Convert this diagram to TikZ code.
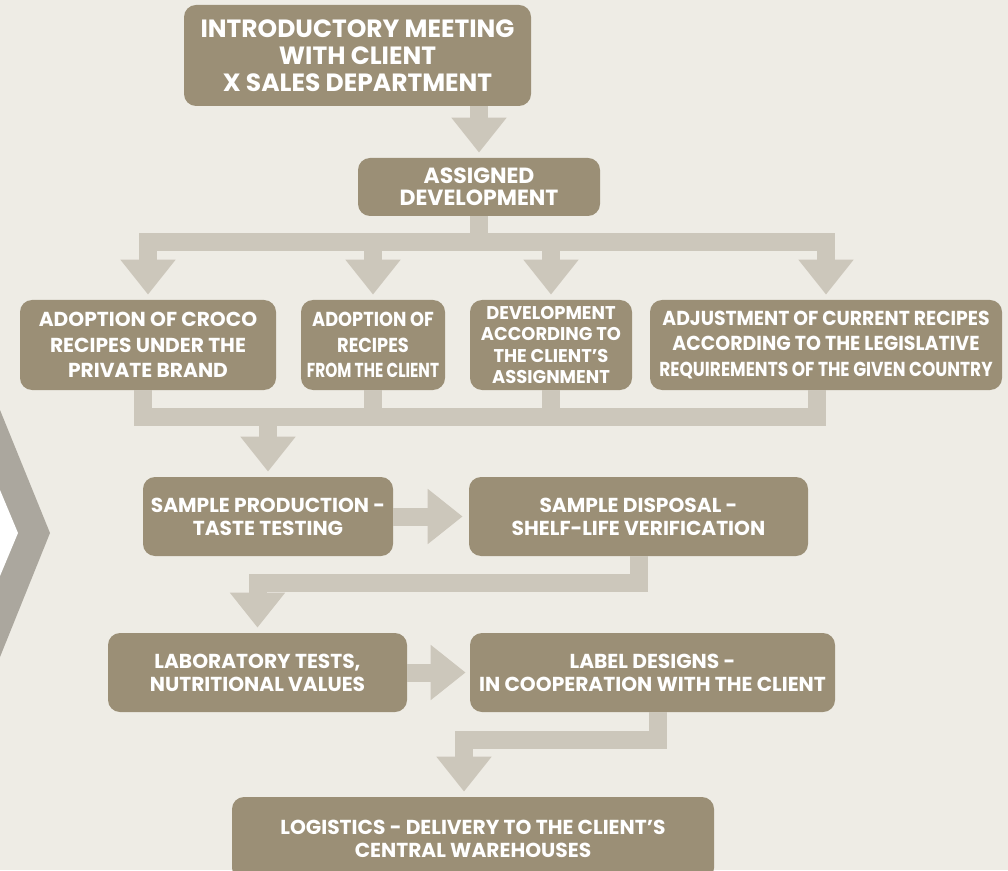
\documentclass[tikz,border=0pt]{standalone}
\usepackage{fontspec}
\setmainfont{Poppins}
\usepackage{graphicx}
\usetikzlibrary{arrows.meta}
\definecolor{paper}{HTML}{EEECE5}
\definecolor{mud}{HTML}{9B8F76}
\definecolor{pale}{HTML}{CCC7BB}
\definecolor{chev}{HTML}{ABA79E}
\newcommand\narrow[2]{\scalebox{#1}[1]{#2}}

\begin{document}
\begin{tikzpicture}[
    box/.style={fill=mud,text=white,rounded corners=0.24cm,align=center,inner sep=0pt,
      font=\bfseries\fontsize{11.5}{14.5}\selectfont},
    pipe/.style={draw=pale,line width=0.36cm,line join=miter},
    flow/.style={pipe,-{Triangle[width=1.06cm,length=0.7cm]},shorten >=0.1cm}]
  \clip (0,0) rectangle (20.16,17.4);
  \fill[paper] (0,0) rectangle (20.16,17.4);
  \fill[chev] (0,9.2)--(1.0,6.74)--(0,4.26)--cycle;
  \fill[white] (0,7.6)--(0.36,6.74)--(0,5.88)--cycle;

  \node[box,minimum width=6.94cm,minimum height=2.02cm,font=\bfseries\fontsize{14.2}{15.3}\selectfont] (intro) at (7.15,16.29)
    {INTRODUCTORY MEETING\\WITH CLIENT\\X SALES DEPARTMENT};
  \node[box,minimum width=4.84cm,minimum height=1.16cm,font=\bfseries\fontsize{12.5}{12.6}\selectfont] (asg) at (9.58,13.66)
    {ASSIGNED\\DEVELOPMENT};

  \node[box,minimum width=5.12cm,minimum height=1.8cm] (adopt) at (2.96,10.5)
    {ADOPTION OF CROCO\\RECIPES UNDER THE\\PRIVATE BRAND};
  \node[box,minimum width=2.88cm,minimum height=1.8cm] (fromcl) at (7.46,10.5)
    {\narrow{0.88}{ADOPTION OF}\\\narrow{0.88}{RECIPES}\\\narrow{0.76}{FROM THE CLIENT}};
  \node[box,minimum width=3.24cm,minimum height=1.8cm,font=\bfseries\fontsize{10.5}{12}\selectfont] (assign) at (11.02,10.5)
    {\narrow{0.97}{DEVELOPMENT}\\\narrow{0.97}{ACCORDING TO}\\\narrow{0.97}{THE CLIENT’S}\\\narrow{0.97}{ASSIGNMENT}};
  \node[box,minimum width=7.04cm,minimum height=1.8cm] (adjust) at (16.52,10.5)
    {\narrow{0.93}{ADJUSTMENT OF CURRENT RECIPES}\\\narrow{0.94}{ACCORDING TO THE LEGISLATIVE}\\\narrow{0.84}{REQUIREMENTS OF THE GIVEN COUNTRY}};

  \node[box,minimum width=5.0cm,minimum height=1.58cm,font=\bfseries\fontsize{11.5}{13}\selectfont] (sprod) at (5.36,7.07)
    {SAMPLE PRODUCTION -\\TASTE TESTING};
  \node[box,minimum width=6.78cm,minimum height=1.58cm,font=\bfseries\fontsize{11.5}{13}\selectfont] (sdisp) at (12.77,7.07)
    {SAMPLE DISPOSAL -\\SHELF-LIFE VERIFICATION};
  \node[box,minimum width=5.98cm,minimum height=1.58cm,font=\bfseries\fontsize{11.5}{13}\selectfont] (lab) at (5.15,3.95)
    {LABORATORY TESTS,\\NUTRITIONAL VALUES};
  \node[box,minimum width=7.3cm,minimum height=1.58cm,font=\bfseries\fontsize{11.5}{13}\selectfont] (label) at (13.05,3.95)
    {LABEL DESIGNS -\\IN COOPERATION WITH THE CLIENT};
  \node[box,minimum width=9.64cm,minimum height=1.66cm,font=\bfseries\fontsize{11.5}{13}\selectfont] (logi) at (9.46,0.63)
    {LOGISTICS - DELIVERY TO THE CLIENT’S\\CENTRAL WAREHOUSES};

  \coordinate (split) at (9.58,12.56);
  \coordinate (merge) at (5.36,9.06);

  \draw[flow] (asg.north |- intro.south) -- (asg.north);
  \draw[pipe] (asg.south) -- (split);
  \foreach \n in {adopt,fromcl,assign,adjust}
    \draw[flow] (split) -| (\n.north);

  \draw[pipe] ([xshift=-0.1cm]adopt.south) |- (merge);
  \draw[pipe] (fromcl.south) |- (merge);
  \draw[pipe] (assign.south) |- (merge);
  \draw[pipe] ([xshift=-0.18cm]adjust.south) |- (merge);
  \draw[flow] (merge) -- (sprod.north);

  \draw[flow,shorten >=0.12cm] (sprod.east) -- (sdisp.west);
  \draw[flow] (sdisp.south) -- ++(0,-0.54) -| (lab.north);
  \draw[flow,shorten >=0.08cm] (lab.east) -- (label.west);
  \draw[flow] ([xshift=0.11cm]label.south) -- ++(0,-0.56) -| ([xshift=-0.18cm]logi.north);
\end{tikzpicture}
\end{document}
